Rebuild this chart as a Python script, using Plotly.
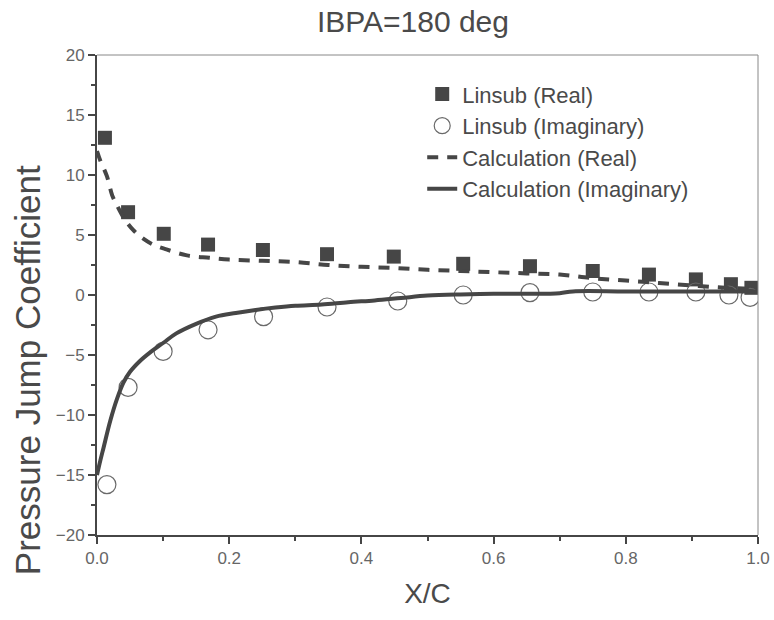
import plotly.graph_objects as go

# Linsub data (markers)
linsub_x_real = [0.012, 0.047, 0.101, 0.168, 0.251, 0.348, 0.449, 0.554, 0.655, 0.75, 0.835, 0.906, 0.959, 0.99]
linsub_y_real = [13.1, 6.9, 5.1, 4.2, 3.75, 3.4, 3.2, 2.6, 2.4, 2.0, 1.7, 1.3, 0.9, 0.6]
linsub_x_imag = [0.015, 0.047, 0.1, 0.168, 0.252, 0.348, 0.455, 0.554, 0.655, 0.75, 0.835, 0.906, 0.956, 0.988]
linsub_y_imag = [-15.8, -7.7, -4.7, -2.9, -1.8, -1.0, -0.5, 0.0, 0.2, 0.25, 0.25, 0.25, 0.0, -0.2]

# Calculation curves
calc_x_real = [0, 0.005, 0.015, 0.023, 0.03, 0.042, 0.055, 0.07, 0.085, 0.105, 0.136, 0.17, 0.2, 0.25,
               0.3, 0.35, 0.4, 0.45, 0.5, 0.55, 0.6, 0.65, 0.7, 0.75, 0.8, 0.85, 0.9, 0.95, 1.0]
calc_y_real = [12.0, 11.2, 9.9, 8.3, 7.5, 6.3, 5.4, 4.7, 4.2, 3.8, 3.3, 3.1, 2.95, 2.85,
               2.75, 2.5, 2.35, 2.25, 2.1, 2.0, 1.9, 1.8, 1.7, 1.4, 1.2, 1.0, 0.8, 0.6, 0.5]
calc_x_imag = [0, 0.005, 0.01, 0.02, 0.03, 0.04, 0.05, 0.065, 0.08, 0.1, 0.12, 0.15, 0.18, 0.21,
               0.24, 0.27, 0.3, 0.34, 0.38, 0.42, 0.46, 0.5, 0.55, 0.6, 0.65, 0.7, 0.72, 0.8, 0.9, 1.0]
calc_y_imag = [-15.0, -13.8, -12.7, -10.5, -8.7, -7.3, -6.4, -5.5, -4.8, -4.0, -3.2, -2.4, -1.8, -1.5,
               -1.25, -1.05, -0.9, -0.8, -0.6, -0.45, -0.25, -0.05, 0.05, 0.1, 0.1, 0.15, 0.3, 0.3, 0.3, 0.3]

title_text = "IBPA=180 deg"
x_title = "X/C"
y_title = "Pressure Jump Coefficient"

dark = "#464646"
font_family = "Liberation Sans"

fig = go.Figure()
fig.add_trace(go.Scatter(x=linsub_x_real, y=linsub_y_real, mode="markers", name="Linsub (Real)",
                         marker=dict(symbol="square", size=14, color=dark, line=dict(width=0))))
fig.add_trace(go.Scatter(x=linsub_x_imag, y=linsub_y_imag, mode="markers", name="Linsub (Imaginary)",
                         marker=dict(symbol="circle-open", size=18, color="#6a6a6a", line=dict(width=1.2))))
fig.add_trace(go.Scatter(x=calc_x_real, y=calc_y_real, mode="lines", name="Calculation (Real)",
                         line_shape="spline",
                         line=dict(color=dark, width=4, dash="11px,9px")))
fig.add_trace(go.Scatter(x=calc_x_imag, y=calc_y_imag, mode="lines", name="Calculation (Imaginary)",
                         line_shape="spline",
                         line=dict(color=dark, width=4)))

fig.update_layout(
    width=774, height=620,
    margin=dict(l=97, r=16, t=55, b=85),
    paper_bgcolor="white", plot_bgcolor="white",
    font=dict(family=font_family, color="#555555"),
    title=dict(text=title_text, x=0.478, xref="paper", xanchor="center", y=0.965, yanchor="middle",
               font=dict(size=30, color="#4a4a4a")),
    legend=dict(x=0.492, y=0.962, xanchor="left", yanchor="top", bgcolor="rgba(0,0,0,0)",
                font=dict(size=22, color="#4a4a4a"), traceorder="normal"),
    showlegend=True,
)
fig.update_xaxes(range=[0, 1], dtick=0.2, tick0=0, tickformat=".1f",
                 showgrid=False, zeroline=False,
                 showline=True, linecolor=dark, linewidth=2,
                 ticks="outside", ticklen=7, tickwidth=1.5, tickcolor=dark,
                 minor=dict(dtick=0.1, ticks="outside", ticklen=4, tickwidth=1.5, tickcolor=dark),
                 tickfont=dict(size=17, color="#666666"), automargin=False,
                 title=dict(text=x_title, font=dict(size=28, color="#4a4a4a"), standoff=16))
fig.update_yaxes(range=[-20, 20], dtick=5, tick0=0,
                 showgrid=False, zeroline=False,
                 showline=True, linecolor=dark, linewidth=2,
                 ticks="outside", ticklen=7, tickwidth=1.5, tickcolor=dark,
                 minor=dict(dtick=2.5, ticks="outside", ticklen=4, tickwidth=1.5, tickcolor=dark),
                 tickfont=dict(size=17, color="#666666"), automargin=False)

# y-axis title placed as annotation (offset downward like the reference)
fig.add_annotation(text=y_title, xref="paper", yref="paper", x=-0.104, y=0.344,
                   xanchor="center", yanchor="middle", textangle=-90, showarrow=False,
                   font=dict(size=35, color="#4a4a4a"))

# thin top and right frame lines
fig.add_shape(type="line", xref="paper", yref="paper", x0=0, x1=1, y0=1, y1=1,
              line=dict(color="#888888", width=1))
fig.add_shape(type="line", xref="paper", yref="paper", x0=1, x1=1, y0=0, y1=1,
              line=dict(color="#888888", width=1))

fig.write_html("out.html")
